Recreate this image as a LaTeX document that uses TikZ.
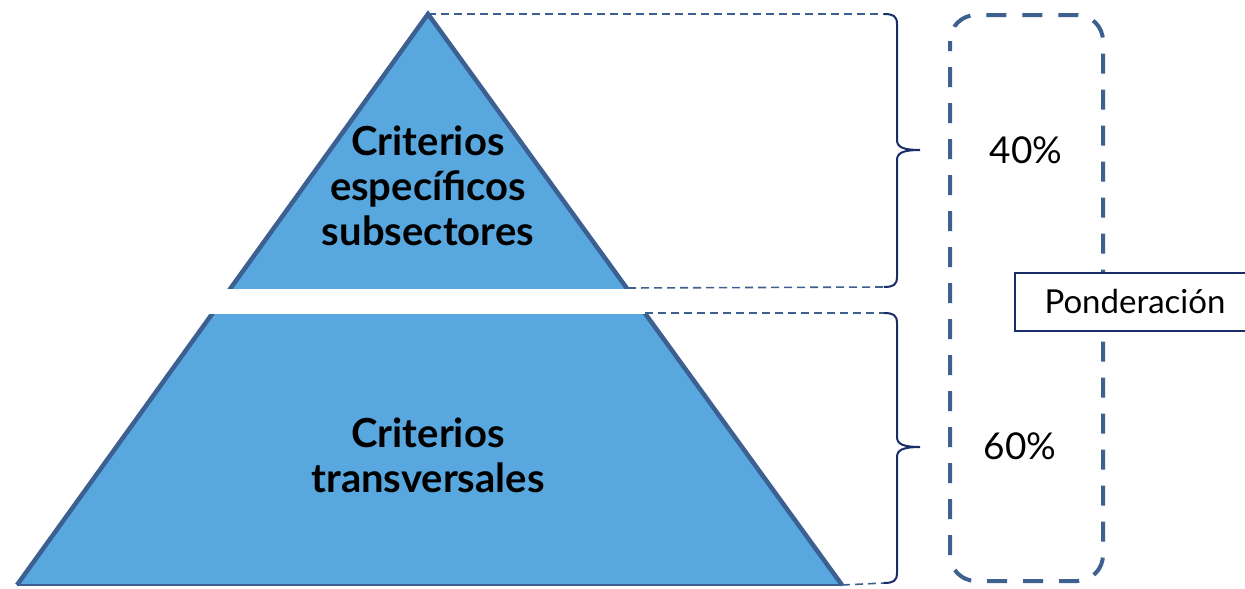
\documentclass[tikz,border=0pt]{standalone}
\usepackage{fontspec}
\setmainfont{Lato}
\definecolor{trifill}{RGB}{88,168,223}
\definecolor{triline}{RGB}{60,96,145}
\definecolor{bracecol}{RGB}{25,45,105}
\definecolor{dashcol}{RGB}{62,96,142}
\begin{document}
\begin{tikzpicture}[x=1pt,y=-1pt,
  tritext/.style={font=\fontsize{40}{45}\selectfont\bfseries, align=center, text=black},
  pcttext/.style={font=\fontsize{37}{40}\selectfont, text=black},
  guide/.style={draw=dashcol, line width=1.6pt, dash pattern=on 8pt off 5pt},
  bracestyle/.style={draw=bracecol, line width=2pt},
  ponder/.style={draw=bracecol, line width=1.5pt, fill=white}
]
\useasboundingbox (0,0) rectangle (1245,589);
\clip (0,0) rectangle (1245,589);
% pyramid
\coordinate (apex) at (428,14);
\coordinate (bl) at (17,585);
\coordinate (br) at (842,585);
\fill[trifill] (apex) -- (bl) -- (br) -- cycle;
\draw[triline, line width=4.5pt, line join=miter] (bl) -- (apex) -- (br);
\draw[triline, line width=2.5pt] (bl) -- (br);
% white gap
\fill[white] (150,289) rectangle (720,314);
\coordinate (topR) at (628,288);
\coordinate (botR) at (645,313);
% texts
\node[tritext] (t1) at (428,186) {Criterios\\específicos\\subsectores};
\node[tritext] (t2) at (428,455) {Criterios\\transversales};
% brace end points
\coordinate (b1a) at (884,14);
\coordinate (b1b) at (884,287);
\coordinate (b2a) at (884,313);
\coordinate (b2b) at (884,583);
% guide lines
\draw[guide] (apex) -- (b1a);
\draw[guide] (topR) -- (b1b);
\draw[guide] (botR) -- (b2a);
\draw[guide] (br) -- (b2b);
% braces
\draw[bracestyle] (b1a) .. controls (893,14) and (897,16) .. (897,24) -- (897,140)
  .. controls (897,147) and (903,150) .. (920,150)
  .. controls (903,150) and (897,153) .. (897,160) -- (897,277)
  .. controls (897,285) and (893,287) .. (b1b);
\draw[bracestyle] (b2a) .. controls (893,313) and (897,315) .. (897,323) -- (897,437)
  .. controls (897,444) and (903,447) .. (920,447)
  .. controls (903,447) and (897,450) .. (897,457) -- (897,573)
  .. controls (897,581) and (893,583) .. (b2b);
% dashed rounded box
\draw[draw=dashcol, line width=4pt, rounded corners=26pt, dash pattern=on 20pt off 16pt, dash phase=10pt]
  (950,15) rectangle (1103,581);
% percentages
\node[pcttext] (p1) at (1026,150) {40\%};
\node[pcttext] (p2) at (1020,446) {60\%};
% ponderacion box
\draw[ponder] (1015,273) rectangle (1265,331);
\node[font=\fontsize{33}{36}\selectfont, text=black] (pond) at (1135,301) {Ponderación};
\end{tikzpicture}
\end{document}
